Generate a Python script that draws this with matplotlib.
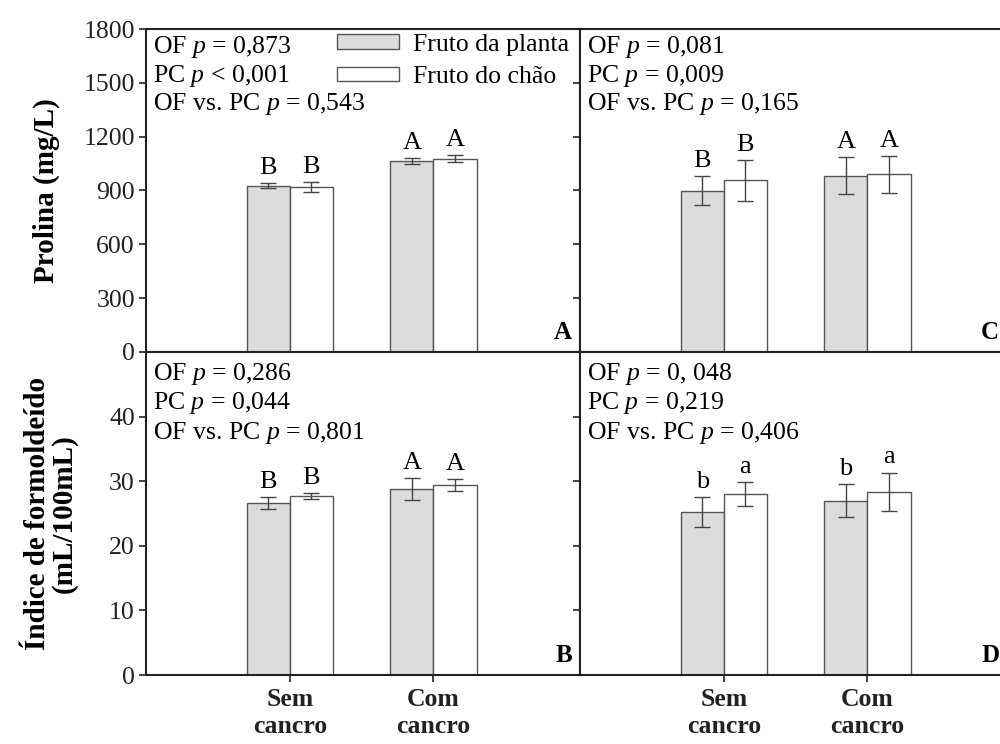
import numpy as np
import matplotlib
matplotlib.use('Agg')
import matplotlib.pyplot as plt
from matplotlib.patches import Patch

plt.rcParams['font.family'] = ['Liberation Serif', 'DejaVu Serif']
plt.rcParams['mathtext.fontset'] = 'custom'
plt.rcParams['mathtext.rm'] = 'Liberation Serif'
plt.rcParams['mathtext.it'] = 'Liberation Serif:italic'

### Data
categories = ['Sem\ncancro', 'Com\ncancro']
series = ['Fruto da planta', 'Fruto do chão']

# A - Prolina (mg/L), OF
prolina_a_planta = [927, 1065]
prolina_a_planta_err = [12, 16]
prolina_a_chao = [919, 1078]
prolina_a_chao_err = [29, 21]
letras_a_planta = ['B', 'A']
letras_a_chao = ['B', 'A']
textos_a = ['OF $p$ = 0,873', 'PC $p$ < 0,001', 'OF vs. PC $p$ = 0,543']

# C - Prolina (mg/L), PC
prolina_c_planta = [899, 983]
prolina_c_planta_err = [80, 102]
prolina_c_chao = [957, 990]
prolina_c_chao_err = [113, 102]
letras_c_planta = ['B', 'A']
letras_c_chao = ['B', 'A']
textos_c = ['OF $p$ = 0,081', 'PC $p$ = 0,009', 'OF vs. PC $p$ = 0,165']

# B - Indice de formol (mL/100mL), OF
formol_b_planta = [26.6, 28.8]
formol_b_planta_err = [0.95, 1.7]
formol_b_chao = [27.7, 29.4]
formol_b_chao_err = [0.45, 0.9]
letras_b_planta = ['B', 'A']
letras_b_chao = ['B', 'A']
textos_b = ['OF $p$ = 0,286', 'PC $p$ = 0,044', 'OF vs. PC $p$ = 0,801']

# D - Indice de formol (mL/100mL), PC
formol_d_planta = [25.2, 27.0]
formol_d_planta_err = [2.35, 2.6]
formol_d_chao = [28.0, 28.35]
formol_d_chao_err = [1.9, 3.0]
letras_d_planta = ['b', 'b']
letras_d_chao = ['a', 'a']
textos_d = ['OF $p$ = 0, 048', 'PC $p$ = 0,219', 'OF vs. PC $p$ = 0,406']

prolina_ticks = np.arange(0, 1801, 300)
formol_ticks = np.arange(0, 41, 10)

width = 0.3
cinza = '#dcdcdc'
borda = '#555555'


def painel(ax, planta, planta_err, chao, chao_err, let_planta, let_chao,
           textos, tag, ylim, yticks, ylabels=True, xlabels=True, ytext=(0.945, 0.856, 0.769)):
    x = np.arange(1, len(categories) + 1)
    ax.bar(x - width / 2, planta, width, color=cinza, edgecolor=borda, linewidth=1, zorder=2)
    ax.bar(x + width / 2, chao, width, color='white', edgecolor=borda, linewidth=1, zorder=2)
    ax.errorbar(x - width / 2, planta, yerr=planta_err, fmt='none', ecolor='#444444',
                elinewidth=1, capsize=6, capthick=1, zorder=3)
    ax.errorbar(x + width / 2, chao, yerr=chao_err, fmt='none', ecolor='#444444',
                elinewidth=1, capsize=6, capthick=1, zorder=3)
    for xs, vals, errs, lets in ((x - width / 2, planta, planta_err, let_planta),
                                 (x + width / 2, chao, chao_err, let_chao)):
        for xi, v, e, l in zip(xs, vals, errs, lets):
            ax.annotate(l, (xi, v + e), xytext=(0, 3), textcoords='offset points',
                        ha='center', va='bottom', fontsize=19)

    ax.set_xlim(0, 3.02)
    ax.set_ylim(*ylim)
    ax.set_yticks(yticks)
    ax.set_xticks(x)
    ax.set_xticklabels(categories, fontsize=22.5, fontweight='bold', linespacing=1.25)
    ax.tick_params(direction='out', length=5, width=1.2, labelsize=18.5, colors='#222222')
    ax.tick_params(axis='x', pad=4, labelbottom=xlabels)
    ax.tick_params(axis='y', pad=3, labelleft=ylabels)
    for s in ax.spines.values():
        s.set_linewidth(1.5)
        s.set_color('#222222')

    for t, yy in zip(textos, ytext):
        ax.text(0.017, yy, t, transform=ax.transAxes, fontsize=18.5, ha='left', va='center')
    ax.text(0.982 if ylabels else 0.966, 0.06, tag, transform=ax.transAxes, fontsize=18,
            fontweight='bold', ha='right', va='center')


fig = plt.figure(figsize=(10, 7.44), dpi=100)
W, H = 0.434, 0.434
axA = fig.add_axes([0.146, 0.527, W, H])
axC = fig.add_axes([0.580, 0.527, W, H])
axB = fig.add_axes([0.146, 0.0927, W, H])
axD = fig.add_axes([0.580, 0.0927, W, H])

painel(axA, prolina_a_planta, prolina_a_planta_err, prolina_a_chao, prolina_a_chao_err,
       letras_a_planta, letras_a_chao, textos_a, 'A', (0, 1800), prolina_ticks, xlabels=False)
painel(axC, prolina_c_planta, prolina_c_planta_err, prolina_c_chao, prolina_c_chao_err,
       letras_c_planta, letras_c_chao, textos_c, 'C', (0, 1800), prolina_ticks,
       ylabels=False, xlabels=False)
painel(axB, formol_b_planta, formol_b_planta_err, formol_b_chao, formol_b_chao_err,
       letras_b_planta, letras_b_chao, textos_b, 'B', (0, 50), formol_ticks,
       ytext=(0.932, 0.842, 0.749))
painel(axD, formol_d_planta, formol_d_planta_err, formol_d_chao, formol_d_chao_err,
       letras_d_planta, letras_d_chao, textos_d, 'D', (0, 50), formol_ticks,
       ylabels=False, ytext=(0.932, 0.842, 0.749))

### Legend (only in panel A)
handles = [Patch(facecolor=cinza, edgecolor=borda, linewidth=1),
           Patch(facecolor='white', edgecolor=borda, linewidth=1)]
axA.legend(handles, series, loc='upper left', bbox_to_anchor=(0.44, 0.985), frameon=False,
           fontsize=18.5, handlelength=2.4, handleheight=0.5, handletextpad=0.55,
           labelspacing=0.4, borderpad=0, borderaxespad=0)

### Y labels
fig.text(0.046, 0.527 + H / 2, 'Prolina (mg/L)', rotation=90, fontsize=21,
         fontweight='bold', ha='center', va='center')
fig.text(0.051, 0.0927 + H / 2, 'Índice de formoldeído\n(mL/100mL)', rotation=90,
         fontsize=21, fontweight='bold', ha='center', va='center', linespacing=1.0)

plt.savefig('out.png', dpi=100)
